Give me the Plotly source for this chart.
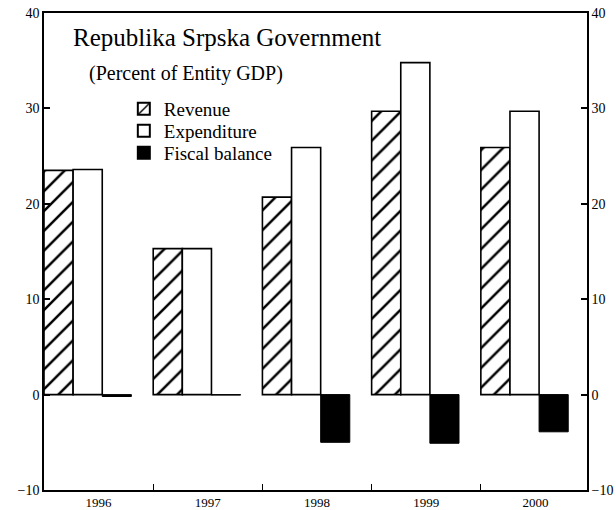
import plotly.graph_objects as go

years = ["1996", "1997", "1998", "1999", "2000"]
revenue = [23.5, 15.3, 20.7, 29.7, 25.9]
expenditure = [23.6, 15.3, 25.9, 34.8, 29.7]
fiscal_balance = [-0.2, -0.05, -5.0, -5.1, -3.9]
y_ticks = [-10, 0, 10, 20, 30, 40]

idx = list(range(len(years)))
FONT = "Liberation Serif, Times New Roman, serif"

fig = go.Figure()
fig.add_trace(go.Bar(
    x=idx, y=revenue, name="Revenue", legend="legend",
    marker=dict(color="white", line=dict(color="black", width=1.6),
                pattern=dict(shape="/", fgcolor="black", bgcolor="white",
                             fillmode="replace", fgopacity=1,
                             size=14, solidity=0.18)),
))
fig.add_trace(go.Bar(
    x=idx, y=expenditure, name="Expenditure", legend="legend2",
    marker=dict(color="white", line=dict(color="black", width=1.6)),
))
fig.add_trace(go.Bar(
    x=idx, y=fiscal_balance, name="Fiscal balance", legend="legend3",
    marker=dict(color="black", line=dict(color="black", width=1)),
))
# invisible trace to carry the right-hand axis
fig.add_trace(go.Scatter(
    x=idx, y=revenue, yaxis="y2", mode="markers",
    marker=dict(opacity=0), showlegend=False, hoverinfo="skip",
))

xr = [-0.4, len(years) - 1 + 0.572]
tickfont = dict(family=FONT, size=14, color="black")
legfont = dict(family=FONT, size=19, color="black")

# plot area: top 13 px, bottom 490 px -> height 477
def leg(y):
    return dict(x=0.147, y=y, xanchor="left", yanchor="middle",
                bgcolor="rgba(0,0,0,0)", font=legfont, itemsizing="constant")


fig.update_layout(
    width=616, height=510,
    margin=dict(l=44, r=29, t=13, b=20, autoexpand=False),
    paper_bgcolor="white", plot_bgcolor="white",
    barmode="group", bargap=0.2, bargroupgap=0,
    font=dict(family=FONT, color="black", size=14),
    showlegend=True,
    legend=leg(0.7987),
    legend2=leg(0.7526),
    legend3=leg(0.7065),
    xaxis=dict(
        range=xr, showgrid=False, zeroline=False, automargin=False,
        showline=True, linecolor="black", linewidth=1.6, mirror=True,
        tickmode="array", tickvals=[i + 0.1 for i in idx], ticktext=years,
        ticks="", tickfont=dict(family=FONT, size=13, color="black"),
        minor=dict(tickmode="array", tickvals=[i - 0.4 for i in idx[1:]],
                   ticks="inside", ticklen=6, tickcolor="black", tickwidth=1.2),
    ),
    yaxis=dict(
        range=[-10, 40], showgrid=False, zeroline=False, automargin=False,
        showline=True, linecolor="black", linewidth=1.6,
        tickmode="array", tickvals=y_ticks, ticks="inside", ticklen=6,
        tickcolor="black", tickwidth=1.5, tickfont=tickfont,
    ),
    yaxis2=dict(
        range=[-10, 40], overlaying="y", side="right", showgrid=False, zeroline=False,
        automargin=False,
        showline=True, linecolor="black", linewidth=1.6,
        tickmode="array", tickvals=y_ticks, ticks="inside", ticklen=6,
        tickcolor="black", tickwidth=1.5, tickfont=tickfont,
    ),
    annotations=[
        dict(text="Republika Srpska Government", xref="paper", yref="paper",
             x=0.0497, y=0.9476, xanchor="left", yanchor="middle", showarrow=False,
             font=dict(family=FONT, size=25, color="black")),
        dict(text="(Percent of Entity GDP)", xref="paper", yref="paper",
             x=0.079, y=0.8742, xanchor="left", yanchor="middle", showarrow=False,
             font=dict(family=FONT, size=20, color="black")),
    ],
)

fig.write_html("out.html", config={"displayModeBar": False},
               post_script="document.body.style.margin='0';")
